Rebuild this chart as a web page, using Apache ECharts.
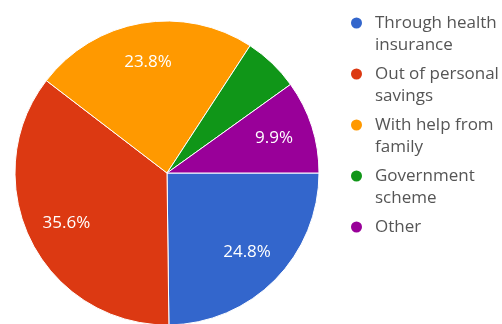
<!DOCTYPE html>
<html>
<head>
<meta charset="utf-8">
<script src="https://cdn.jsdelivr.net/npm/echarts@6/dist/echarts.min.js"></script>
<style>
html,body{margin:0;padding:0;background:#fff;}
#chart{width:502px;height:324px;}
</style>
</head>
<body>
<div id="chart"></div>
<script>
const categories = ["Through health insurance", "Out of personal savings", "With help from family", "Government scheme", "Other"];
const values = [24.8, 35.6, 23.8, 5.9, 9.9];
const colors = ["#3366cc", "#dc3912", "#ff9900", "#109618", "#990099"];
const hiddenLabels = ["Government scheme"];
const singleLine = ["Other"];

const chart = echarts.init(document.getElementById('chart'), null, {renderer: 'canvas'});

const sliceData = categories.map((c, i) => ({name: c, value: values[i], itemStyle: {color: colors[i]}}));
const labelData = categories.map((c, i) => ({
  name: c, value: values[i],
  label: {show: hiddenLabels.indexOf(c) < 0}
}));

chart.setOption({
  animation: false,
  backgroundColor: '#fff',
  color: colors,
  legend: {
    orient: 'vertical',
    left: 344,
    top: -15,
    icon: 'circle',
    itemWidth: 13,
    itemHeight: 13,
    itemGap: -15,
    selectedMode: false,
    data: categories,
    formatter: name => '\n' + name + (singleLine.indexOf(name) >= 0 ? '\n\u00a0' : ''),
    textStyle: {color: '#555', fontSize: 17, fontFamily: 'Open Sans', lineHeight: 22, width: 160, overflow: 'break', padding: [0, 0, 0, 7]}
  },
  series: [
    {
      type: 'pie',
      center: [167, 173],
      radius: [0, 152],
      startAngle: 0,
      clockwise: true,
      silent: true,
      label: {show: false},
      labelLine: {show: false},
      itemStyle: {borderColor: '#fff', borderWidth: 1},
      data: sliceData
    },
    {
      type: 'pie',
      center: [167, 173],
      radius: [67, 152],
      startAngle: 0,
      clockwise: true,
      silent: true,
      legendHoverLink: false,
      itemStyle: {color: 'rgba(0,0,0,0)', borderWidth: 0},
      label: {
        show: true,
        position: 'inside',
        color: '#fff',
        fontSize: 17,
        fontFamily: 'Open Sans',
        formatter: p => p.percent.toFixed(1) + '%'
      },
      labelLine: {show: false},
      data: labelData
    }
  ]
});
</script>
</body>
</html>
